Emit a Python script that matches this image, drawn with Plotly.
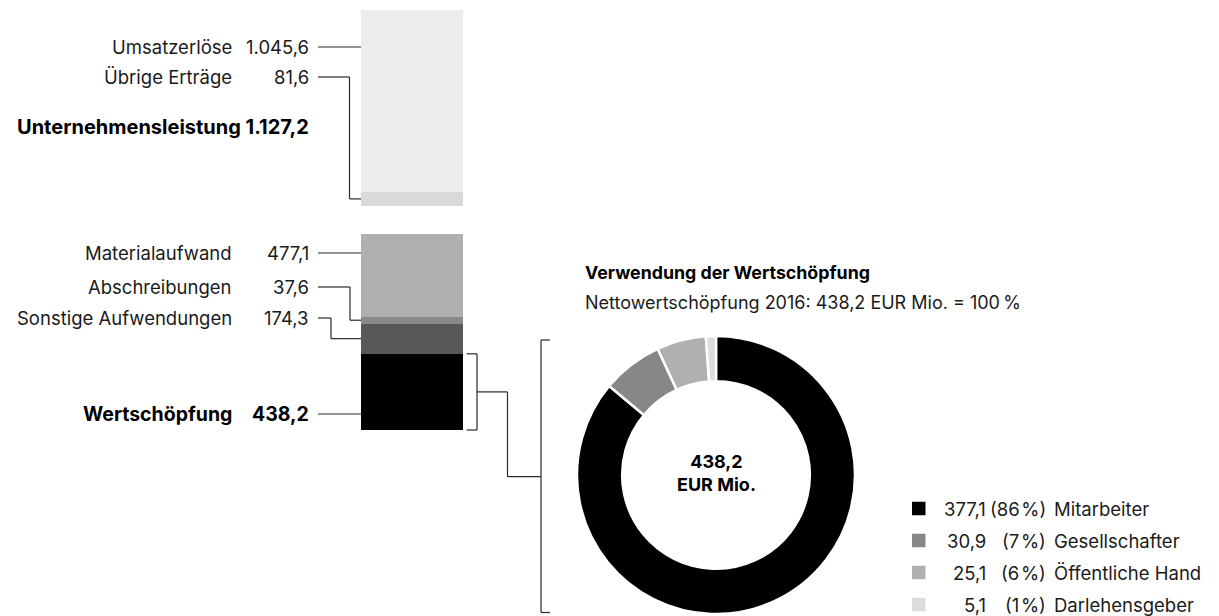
import plotly.graph_objects as go

# ---------------- data ----------------
top_labels = ["Umsatzerlöse", "Übrige Erträge"]
top_values = [1045.6, 81.6]
top_colors = ["#ececec", "#d9d9d9"]
total_label = "Unternehmensleistung"

bottom_labels = ["Materialaufwand", "Abschreibungen", "Sonstige Aufwendungen", "Wertschöpfung"]
bottom_values = [477.1, 37.6, 174.3, 438.2]
bottom_colors = ["#b0b0b0", "#8a8a8a", "#575757", "#000000"]

use_labels = ["Mitarbeiter", "Gesellschafter", "Öffentliche Hand", "Darlehensgeber"]
use_values = [377.1, 30.9, 25.1, 5.1]
use_colors = ["#000000", "#878787", "#b0b0b0", "#dcdcdc"]

title_text = "Verwendung der Wertschöpfung"
subtitle_text = "Nettowertschöpfung 2016: 438,2 EUR Mio. = 100\u2009%"

# ---------------- helpers ----------------
W, H = 1219, 616
FONT = "Inter"
FS = 18.5        # regular labels
FS_B = 19.5      # bold labels on the left
FS_LEG = 18.5
TXT = "#1a1a1a"
LINE = "#2a2a2a"


def de(v, dec=1):
    s = f"{v:,.{dec}f}"
    return s.replace(",", "X").replace(".", ",").replace("X", ".")


def px(x):
    return x / W


def py(y):
    return 1 - y / H


total_top = sum(top_values)
total_bottom = sum(bottom_values)

# bar placement (pixels)
BAR_X0, BAR_X1 = 361, 463
TOP_Y0, TOP_Y1 = 10, 206
BOT_Y0, BOT_Y1 = 234, 430

fig = go.Figure()

for lab, v, c in zip(top_labels, top_values, top_colors):
    fig.add_trace(go.Bar(x=[0], y=[v], width=1, marker=dict(color=c, line=dict(width=0)),
                         name=lab, xaxis="x", yaxis="y", hoverinfo="name+y"))
for lab, v, c in zip(bottom_labels, bottom_values, bottom_colors):
    fig.add_trace(go.Bar(x=[0], y=[v], width=1, marker=dict(color=c, line=dict(width=0)),
                         name=lab, xaxis="x", yaxis="y2", hoverinfo="name+y"))

# donut
fig.add_trace(go.Pie(
    values=use_values, labels=use_labels, sort=False, direction="clockwise", rotation=0,
    hole=0.675, marker=dict(colors=use_colors, line=dict(color="white", width=2.5)),
    textinfo="none", hoverinfo="label+value+percent",
    domain=dict(x=[px(716 - 139), px(716 + 139)], y=[py(475 + 139), py(475 - 139)]),
))

shapes = []
annotations = []


def seg_y(values, idx, y0, y1):
    tot = sum(values)
    start = sum(values[:idx])
    mid = start + values[idx] / 2
    return y0 + (mid / tot) * (y1 - y0)


def line(x0, y0, x1, y1):
    shapes.append(dict(type="line", xref="paper", yref="paper",
                       x0=px(x0), y0=py(y0), x1=px(x1), y1=py(y1),
                       line=dict(color=LINE, width=1.2)))


def text(x, y, s, anchor, size=FS, color=TXT):
    annotations.append(dict(x=px(x), y=py(y), xref="paper", yref="paper", text=s,
                            showarrow=False, xanchor=anchor, yanchor="middle", borderpad=0,
                            font=dict(family=FONT, size=size, color=color)))


def label(name, value, y, bold=False):
    if bold:
        text(233, y, f"<b>{name}</b>", "right", size=FS_B, color="#000")
        text(310, y, f"<b>{de(value)}</b>", "right", size=FS_B, color="#000")
    else:
        text(233, y, name, "right")
        text(310, y, de(value), "right")


LX = 318
# top group labels
top_label_y = [47, 77]
top_elbow = [None, 349.5]
for i, (lab, v) in enumerate(zip(top_labels, top_values)):
    y = top_label_y[i]
    label(lab, v, y)
    if top_elbow[i] is None:
        line(LX, y, BAR_X0, y)
    else:
        ty = seg_y(top_values, i, TOP_Y0, TOP_Y1)
        line(LX, y, top_elbow[i], y)
        line(top_elbow[i], y, top_elbow[i], ty)
        line(top_elbow[i], ty, BAR_X0, ty)

text(310, 127, f"<b>{total_label} {de(total_top)}</b>", "right", size=FS_B + 0.5, color="#000")

bottom_label_y = [253, 287, 318, 414]
bottom_elbow = [None, 350, 331, None]
for i, (lab, v) in enumerate(zip(bottom_labels, bottom_values)):
    y = bottom_label_y[i]
    label(lab, v, y, bold=(i == len(bottom_labels) - 1))
    if bottom_elbow[i] is None:
        line(LX, y, BAR_X0, y)
    else:
        ty = seg_y(bottom_values, i, BOT_Y0, BOT_Y1)
        line(LX, y, bottom_elbow[i], y)
        line(bottom_elbow[i], y, bottom_elbow[i], ty)
        line(bottom_elbow[i], ty, BAR_X0, ty)

# bracket around Wertschöpfung segment
ws_start = BOT_Y0 + (sum(bottom_values[:-1]) / total_bottom) * (BOT_Y1 - BOT_Y0)
ws_end = BOT_Y1
ws_mid = (ws_start + ws_end) / 2
BX = 477
line(466.5, ws_start, BX, ws_start)
line(BX, ws_start, BX, ws_end)
line(466.5, ws_end, BX, ws_end)
line(BX, ws_mid, 507.5, ws_mid)
line(507.5, ws_mid, 507.5, 476.7)
line(507.5, 476.7, 541, 476.7)
# big bracket left of donut
line(541, 340, 541, 612.5)
line(541, 340, 550, 340)
line(541, 612.5, 550, 612.5)

# title
text(584, 273, f"<b>{title_text}</b>", "left", size=17.8, color="#000")
text(584, 302, subtitle_text, "left", size=18)

# donut centre
text(716, 473, f"<b>{de(sum(use_values))}</b><br><b>EUR Mio.</b>", "center", size=18, color="#000")

# legend
tot_use = sum(use_values)
LEG_Y0, LEG_DY = 508.5, 32
for i, (lab, v, c) in enumerate(zip(use_labels, use_values, use_colors)):
    y = LEG_Y0 + i * LEG_DY
    shapes.append(dict(type="rect", xref="paper", yref="paper",
                       x0=px(912), x1=px(925.5), y0=py(y - 6.75), y1=py(y + 6.75),
                       fillcolor=c, line=dict(width=0)))
    pct = round(v / tot_use * 100)
    text(987, y, de(v), "right", size=FS_LEG)
    text(1047, y, f"({pct}\u200a%)", "right", size=FS_LEG)
    text(1053, y, lab, "left", size=FS_LEG)

fig.update_layout(
    width=W, height=H, margin=dict(l=0, r=0, t=0, b=0),
    paper_bgcolor="white", plot_bgcolor="rgba(0,0,0,0)",
    barmode="stack", bargap=0, showlegend=False,
    xaxis=dict(domain=[px(BAR_X0), px(BAR_X1)], range=[-0.5, 0.5], visible=False, fixedrange=True),
    yaxis=dict(domain=[py(TOP_Y1), py(TOP_Y0)], range=[total_top, 0], visible=False, fixedrange=True),
    yaxis2=dict(domain=[py(BOT_Y1), py(BOT_Y0)], range=[total_bottom, 0], visible=False,
                anchor="x", fixedrange=True),
    shapes=shapes, annotations=annotations,
    font=dict(family=FONT),
)

fig.write_html("out.html", config={"displayModeBar": False})
